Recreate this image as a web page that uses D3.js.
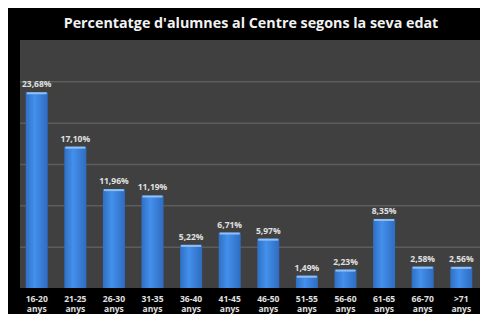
<!DOCTYPE html>
<html>
<head>
<meta charset="utf-8">
<script src="https://cdn.jsdelivr.net/npm/d3@7"></script>
<style>
  body { margin: 0; background: #fff; }
  svg { display: block; }
</style>
</head>
<body>
<div id="chart"></div>
<script>
const ages = ["16-20", "21-25", "26-30", "31-35", "36-40", "41-45", "46-50", "51-55", "56-60", "61-65", "66-70", ">71"];
const percents = [23.68, 17.10, 11.96, 11.19, 5.22, 6.71, 5.97, 1.49, 2.23, 8.35, 2.58, 2.56];
const yTicks = [5, 10, 15, 20, 25];

const width = 480;
const height = 314;

const svg = d3.select("#chart")
    .append("svg")
    .attr("width", width)
    .attr("height", height);

// black frame behind everything
svg.append("rect")
    .attr("x", 8).attr("y", 8)
    .attr("width", width - 8).attr("height", height - 8)
    .attr("fill", "#000");

const x = d3.scaleBand()
    .domain(ages)
    .range([18, 480])
    .paddingInner(0.43)
    .paddingOuter(0.2);

const y = d3.scaleLinear()
    .domain([0, 30])
    .range([288, 40]);

// plot area
svg.append("rect")
    .attr("x", 20).attr("y", y(30))
    .attr("width", width - 20).attr("height", y(0) - y(30))
    .attr("fill", "#404040");

svg.append("text")
    .attr("x", 251)
    .attr("y", 28)
    .attr("text-anchor", "middle")
    .attr("fill", "#f2f2f2")
    .style("font", "bold 14.3px 'Open Sans', sans-serif")
    .text("Percentatge d'alumnes al Centre segons la seva edat");

// gridlines
svg.append("g")
    .attr("transform", "translate(20,0)")
    .call(d3.axisLeft(y).tickValues(yTicks).tickSize(-(width - 20)).tickFormat(""))
    .call(g => g.select(".domain").remove())
    .call(g => g.selectAll(".tick line").attr("stroke", "#5c5c5c").attr("stroke-width", 1.5));

const defs = svg.append("defs");
const grad = defs.append("linearGradient").attr("id", "barGrad");
grad.append("stop").attr("offset", "0%").attr("stop-color", "#2f6fc4");
grad.append("stop").attr("offset", "40%").attr("stop-color", "#4490ec");
grad.append("stop").attr("offset", "100%").attr("stop-color", "#2e6cc0");

svg.selectAll(".bar")
    .data(percents)
    .enter()
    .append("rect")
    .attr("class", "bar")
    .attr("x", (d, i) => x(ages[i]))
    .attr("y", d => y(d))
    .attr("width", x.bandwidth())
    .attr("height", d => y(0) - y(d))
    .attr("fill", "url(#barGrad)");

// light top cap on each bar
svg.selectAll(".cap")
    .data(percents)
    .enter()
    .append("rect")
    .attr("class", "cap")
    .attr("x", (d, i) => x(ages[i]) + 1)
    .attr("y", d => y(d))
    .attr("width", x.bandwidth() - 2)
    .attr("height", 2)
    .attr("fill", "#8fc0f5");

svg.selectAll(".val")
    .data(percents)
    .enter()
    .append("text")
    .attr("class", "val")
    .attr("x", (d, i) => x(ages[i]) + x.bandwidth() / 2)
    .attr("y", d => y(d) - 5)
    .attr("text-anchor", "middle")
    .attr("fill", "#e0e0e0")
    .style("font", "bold 8.5px 'Open Sans', sans-serif")
    .text(d => d.toFixed(2).replace(".", ",") + "%");

// x axis labels
const xAxis = svg.append("g")
    .attr("transform", `translate(0,${y(0)})`)
    .call(d3.axisBottom(x).tickSize(0).tickFormat(""));
xAxis.select(".domain").remove();

const lab = xAxis.selectAll(".tick")
    .append("text")
    .attr("fill", "#e0e0e0")
    .attr("text-anchor", "middle")
    .style("font", "bold 8.5px 'Open Sans', sans-serif");
lab.append("tspan").attr("x", 0).attr("y", 14).text(d => d);
lab.append("tspan").attr("x", 0).attr("y", 24).text("anys");
</script>
</body>
</html>
